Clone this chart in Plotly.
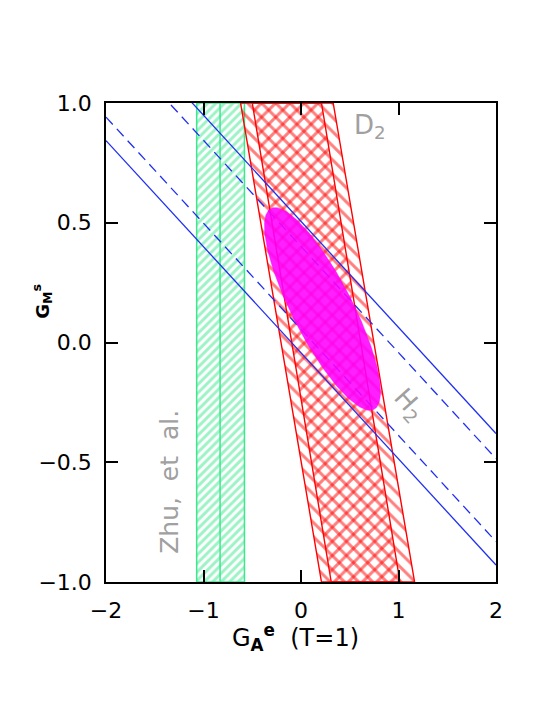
import numpy as np
import plotly.graph_objects as go

# Zhu et al. band (vertical): lower edge, central value, upper edge in G_A^e
zhu_x = [-1.07, -0.83, -0.58]

# D2 band: x of the edges at y = +1 and y = -1
band_y = [1.0, -1.0]
d2_outer_left = [-0.62, 0.21]
d2_outer_right = [0.33, 1.165]
d2_inner_left = [-0.50, 0.31]
d2_inner_right = [0.21, 1.015]

# H2 band: straight lines given by y at x = -2 and x = 2
h2_x = [-2.0, 2.0]
h2_solid = [[1.392, -0.380], [0.843, -0.929]]
h2_dashed = [[1.287, -0.485], [0.941, -0.831]]

# combined 1-sigma ellipse: centre, semi-axes, tilt (deg)
ell_center = [0.22, 0.14]
ell_axes = [0.70, 0.207]
ell_angle = -33.5

green = "#3be88c"
red = "#ff0000"
blue = "#1f2ff0"
grey = "#a0a0a0"

fig = go.Figure()

# green hatched band
fig.add_trace(go.Scatter(
    x=[zhu_x[0], zhu_x[2], zhu_x[2], zhu_x[0], zhu_x[0]],
    y=[-1, -1, 1, 1, -1],
    fill="toself", mode="lines",
    line=dict(color=green, width=1.5),
    fillcolor="rgba(0,0,0,0)",
    fillpattern=dict(shape="/", fgcolor=green, bgcolor="rgba(0,0,0,0)",
                     size=6, solidity=0.5),
    hoverinfo="skip", showlegend=False))
fig.add_trace(go.Scatter(
    x=[zhu_x[1], zhu_x[1]], y=[-1, 1], mode="lines",
    line=dict(color=green, width=1.5), hoverinfo="skip", showlegend=False))

# D2 outer band (single hatch) and inner band (adds the cross hatch)
for left, right, shape in [(d2_outer_left, d2_outer_right, "\\"),
                           (d2_inner_left, d2_inner_right, "/")]:
    fig.add_trace(go.Scatter(
        x=left + right[::-1] + left[:1],
        y=band_y + band_y[::-1] + band_y[:1],
        fill="toself", mode="lines",
        line=dict(color=red, width=1.4),
        fillcolor="rgba(0,0,0,0)",
        fillpattern=dict(shape=shape, fgcolor=red, bgcolor="rgba(0,0,0,0)",
                         size=10, solidity=0.3),
        hoverinfo="skip", showlegend=False))

# H2 lines
for ys in h2_solid:
    fig.add_trace(go.Scatter(x=h2_x, y=ys, mode="lines",
                             line=dict(color=blue, width=1.3),
                             hoverinfo="skip", showlegend=False))
for ys in h2_dashed:
    fig.add_trace(go.Scatter(x=h2_x, y=ys, mode="lines",
                             line=dict(color=blue, width=1.3, dash="10px,6px"),
                             hoverinfo="skip", showlegend=False))

# ellipse
t = np.linspace(0, 2 * np.pi, 200)
th = np.radians(ell_angle)
ex = ell_center[0] + ell_axes[0] * np.cos(t) * np.cos(th) - ell_axes[1] * np.sin(t) * np.sin(th)
ey = ell_center[1] + ell_axes[0] * np.cos(t) * np.sin(th) + ell_axes[1] * np.sin(t) * np.cos(th)
fig.add_trace(go.Scatter(x=ex, y=ey, fill="toself", mode="lines",
                         line=dict(color="rgba(255,0,255,0.9)", width=0.5),
                         fillcolor="rgba(255,0,255,0.88)",
                         hoverinfo="skip", showlegend=False))

txt = dict(family="DejaVu Sans", color=grey)
fig.add_annotation(x=0.71, y=0.9, text="D<sub>2</sub>", showarrow=False,
                   xanchor="center", yanchor="middle", font=dict(size=26, **txt))
fig.add_annotation(x=1.1, y=-0.26, text="H<sub>2</sub>", showarrow=False,
                   xanchor="center", yanchor="middle",
                   textangle=48, font=dict(size=26, **txt))
fig.add_annotation(x=-1.35, y=-0.58, text="Zhu,  et  al.", showarrow=False,
                   xanchor="center", yanchor="middle",
                   textangle=-90, font=dict(size=25, **txt))

# axis titles
fig.add_annotation(xref="paper", yref="paper", x=-0.163, y=0.586,
                   xanchor="center", yanchor="middle",
                   text="<b>G<sub>M</sub><sup>s</sup></b>", showarrow=False,
                   textangle=-90, font=dict(family="DejaVu Sans", size=18, color="black"))
fig.add_annotation(xref="paper", yref="paper", x=0.485, y=-0.115,
                   xanchor="center", yanchor="middle",
                   text="G<sub><b>A</b></sub><sup><b>e</b></sup>  (T=1)", showarrow=False,
                   font=dict(family="DejaVu Sans", size=24, color="black"))

axis = dict(showgrid=False, zeroline=False, showline=True, linecolor="black",
            linewidth=1.5, mirror="ticks", ticks="inside", ticklen=12,
            tickwidth=1.5, tickcolor="black",
            tickfont=dict(family="DejaVu Sans", size=22, color="black"))
fig.update_xaxes(range=[-2, 2], tickvals=[-2, -1, 0, 1, 2],
                 ticklabelstandoff=8, **axis)
fig.update_yaxes(range=[-1, 1], tickvals=[-1, -0.5, 0, 0.5, 1],
                 tickformat=".1f", ticklabelstandoff=8, **axis)

fig.update_layout(width=554, height=717,
                  margin=dict(l=98, r=66, t=95, b=143),
                  plot_bgcolor="white", paper_bgcolor="white")

fig.write_html("out.html")
